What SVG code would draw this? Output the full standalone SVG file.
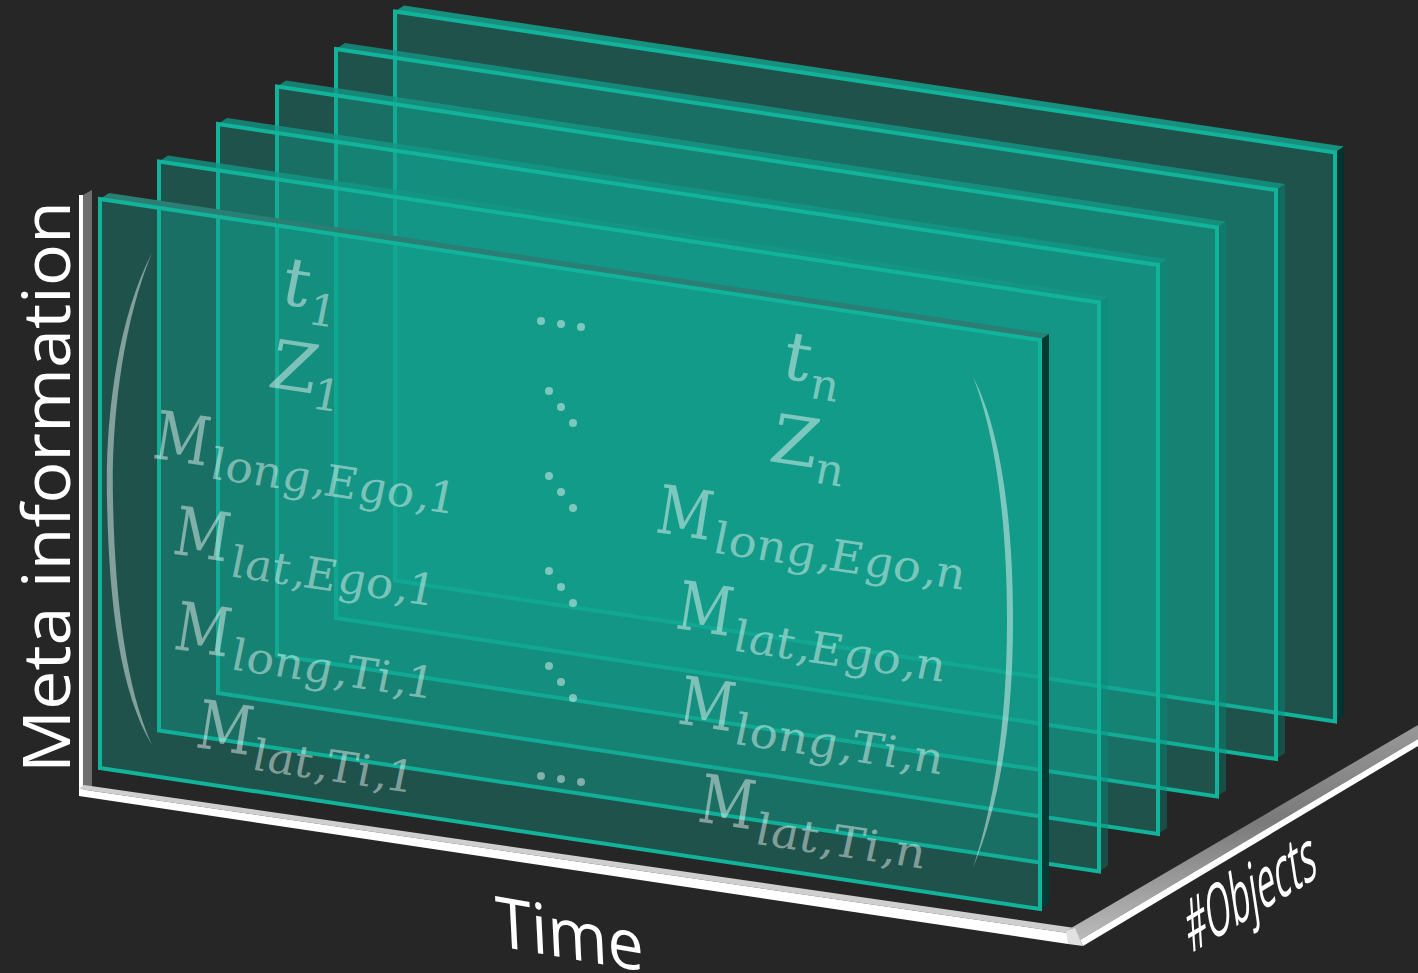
<svg xmlns="http://www.w3.org/2000/svg" xmlns:xlink="http://www.w3.org/1999/xlink" width="1418" height="973" viewBox="0 0 1418 973">
  <style>
    .face { fill: rgb(17,167,147); fill-opacity: .35; stroke: #12b39b; stroke-width: 4; stroke-linejoin: miter; }
    .top { fill: rgb(20,150,132); fill-opacity: .8; }
    .top-back { fill: #17907f; }
    .top-front { fill: #2b7e73; }
    .side { fill: rgb(5,140,122); fill-opacity: .4; }
    .side-back { fill: #00332f; }
    .side-front { fill: #003a34; }
    .m { font-family: "DejaVu Serif", "Liberation Serif", serif; font-style: italic; fill: #ffffff; fill-opacity: .45; }
    .mm { font-size: 68px; }
    .ms { font-size: 44px; }
    .dot { fill: #ffffff; fill-opacity: .45; }
    .paren { fill: #ffffff; fill-opacity: .45; }
    .axis-label { font-family: "Open Sans", "Noto Sans", "DejaVu Sans", sans-serif; fill: #ffffff; }
  </style>
  <defs>
    <!-- one glass slab: front face, top edge and right edge -->
    <polygon id="slab-top" points="100,199 1040,340 1049,334 109,193"/>
    <polygon id="slab-side" points="1040,340 1040,909 1049,903 1049,334"/>
    <polygon id="slab-face" points="100,199 1040,340 1040,909 100,768"/>
    <linearGradient id="objGrad" x1="0" y1="0" x2="0.1" y2="1">
      <stop offset="0" stop-color="#a0a0a0"/>
      <stop offset="0.5" stop-color="#7a7a7a"/>
      <stop offset="1" stop-color="#bcbcbc"/>
    </linearGradient>
  </defs>

  <rect width="1418" height="973" fill="#262626"/>

  <!-- axes -->
  <g id="axes">
    <polygon points="83,195 92,190 92,786 83,790" fill="#6e6e6e"/>
    <polygon points="79,195 83,195 83,790 79,796" fill="#ffffff"/>
    <polygon points="84,785 1075,928 1068,933 79,789" fill="#cfcfcf"/>
    <polygon points="79,789 1068,933 1068,944 79,796" fill="#ffffff"/>
    <polygon points="1066,931 1418,725 1418,739 1080,940" fill="url(#objGrad)"/>
    <polygon points="1080,940 1418,739 1418,746 1083,946" fill="#ffffff"/>
    <polygon points="1066,931 1075,928 1080,940 1083,946 1068,944" fill="#e2e2e2"/>
  </g>

  <!-- stacked slabs, back to front -->
  <g id="panel-6" transform="translate(295,-187.5)">
    <use xlink:href="#slab-top" class="top-back"/>
    <use xlink:href="#slab-side" class="side-back"/>
    <use xlink:href="#slab-face" class="face"/>
  </g>
  <g id="panel-5" transform="translate(236,-150)">
    <use xlink:href="#slab-top" class="top"/>
    <use xlink:href="#slab-side" class="side"/>
    <use xlink:href="#slab-face" class="face"/>
  </g>
  <g id="panel-4" transform="translate(177,-112.5)">
    <use xlink:href="#slab-top" class="top"/>
    <use xlink:href="#slab-side" class="side"/>
    <use xlink:href="#slab-face" class="face"/>
  </g>
  <g id="panel-3" transform="translate(118,-75)">
    <use xlink:href="#slab-top" class="top"/>
    <use xlink:href="#slab-side" class="side"/>
    <use xlink:href="#slab-face" class="face"/>
  </g>
  <g id="panel-2" transform="translate(59,-37.5)">
    <use xlink:href="#slab-top" class="top"/>
    <use xlink:href="#slab-side" class="side"/>
    <use xlink:href="#slab-face" class="face"/>
  </g>
  <g id="panel-1">
    <use xlink:href="#slab-top" class="top-front"/>
    <use xlink:href="#slab-side" class="side-front"/>
    <use xlink:href="#slab-face" class="face"/>
  </g>

  <!-- matrix printed on the front slab -->
  <g id="matrix">
    <path class="paren" d="M152,253 C117,320 105,420 107,500 C109,600 119,690 152,745 C126,688 115,600 113,500 C111,420 123,322 152,253 Z"/>
    <path class="paren" d="M973,377 C1001,430 1013,520 1013,620 C1013,720 1001,800 973,868 C995,800 1007,720 1007,620 C1007,520 995,432 973,377 Z"/>

    <g transform="matrix(1 0.148 0 1 0 -14.8)">
      <!-- first column -->
      <text class="m mm" x="283" y="277">t</text>
      <text class="m ms" x="309" y="293">1</text>
      <text class="m mm" x="271" y="362">Z</text>
      <text class="m ms" x="313" y="377">1</text>
      <text class="m mm" x="155" y="450" textLength="55" lengthAdjust="spacingAndGlyphs">M</text>
      <text class="m ms" x="211" y="462" textLength="246" lengthAdjust="spacingAndGlyphs">long,Ego,1</text>
      <text class="m mm" x="175" y="543" textLength="55" lengthAdjust="spacingAndGlyphs">M</text>
      <text class="m ms" x="231" y="557" textLength="205" lengthAdjust="spacingAndGlyphs">lat,Ego,1</text>
      <text class="m mm" x="176" y="638" textLength="55" lengthAdjust="spacingAndGlyphs">M</text>
      <text class="m ms" x="232" y="650" textLength="203" lengthAdjust="spacingAndGlyphs">long,Ti,1</text>
      <text class="m mm" x="198" y="733" textLength="55" lengthAdjust="spacingAndGlyphs">M</text>
      <text class="m ms" x="253" y="747" textLength="162" lengthAdjust="spacingAndGlyphs">lat,Ti,1</text>

      <!-- last column -->
      <text class="m mm" x="784" y="277">t</text>
      <text class="m ms" x="810" y="293">n</text>
      <text class="m mm" x="772" y="362">Z</text>
      <text class="m ms" x="815" y="377">n</text>
      <text class="m mm" x="658" y="450" textLength="55" lengthAdjust="spacingAndGlyphs">M</text>
      <text class="m ms" x="714" y="462" textLength="251" lengthAdjust="spacingAndGlyphs">long,Ego,n</text>
      <text class="m mm" x="678" y="543" textLength="55" lengthAdjust="spacingAndGlyphs">M</text>
      <text class="m ms" x="734" y="557" textLength="211" lengthAdjust="spacingAndGlyphs">lat,Ego,n</text>
      <text class="m mm" x="680" y="638" textLength="55" lengthAdjust="spacingAndGlyphs">M</text>
      <text class="m ms" x="735" y="650" textLength="208" lengthAdjust="spacingAndGlyphs">long,Ti,n</text>
      <text class="m mm" x="700" y="733" textLength="55" lengthAdjust="spacingAndGlyphs">M</text>
      <text class="m ms" x="756" y="747" textLength="169" lengthAdjust="spacingAndGlyphs">lat,Ti,n</text>
    </g>

    <!-- ellipsis dots in the middle column -->
    <g id="ellipses">
      <circle class="dot" cx="541" cy="321" r="4"/><circle class="dot" cx="561" cy="324" r="4"/><circle class="dot" cx="581" cy="327" r="4"/>
      <circle class="dot" cx="549" cy="391" r="4"/><circle class="dot" cx="561" cy="407" r="4"/><circle class="dot" cx="573" cy="423" r="4"/>
      <circle class="dot" cx="549" cy="476" r="4"/><circle class="dot" cx="561" cy="492" r="4"/><circle class="dot" cx="573" cy="508" r="4"/>
      <circle class="dot" cx="549" cy="571" r="4"/><circle class="dot" cx="561" cy="587" r="4"/><circle class="dot" cx="573" cy="603" r="4"/>
      <circle class="dot" cx="549" cy="666" r="4"/><circle class="dot" cx="561" cy="682" r="4"/><circle class="dot" cx="573" cy="698" r="4"/>
      <circle class="dot" cx="541" cy="776" r="4"/><circle class="dot" cx="561" cy="779" r="4"/><circle class="dot" cx="581" cy="782" r="4"/>
    </g>
  </g>

  <!-- axis labels -->
  <g id="labels">
    <text class="axis-label" font-size="66" transform="translate(70,773) rotate(-90)" textLength="572" lengthAdjust="spacingAndGlyphs">Meta information</text>
    <text class="axis-label" font-size="70" transform="matrix(0.985 0.17 0.05 1 497 946)" textLength="150" lengthAdjust="spacingAndGlyphs">Time</text>
    <text class="axis-label" font-size="72" transform="matrix(0.857 -0.515 0.15 0.99 1190 954)" textLength="150" lengthAdjust="spacingAndGlyphs">#Objects</text>
  </g>
</svg>
